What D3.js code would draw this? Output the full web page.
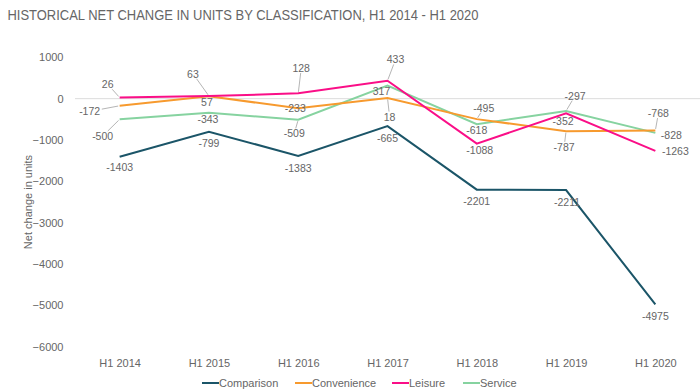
<!DOCTYPE html>
<html><head><meta charset="utf-8">
<script src="https://cdn.jsdelivr.net/npm/d3@7"></script>
<style>body{margin:0;background:#fff;} text{font-family:"Liberation Sans",Arial,sans-serif;}</style>
</head><body>
<svg id="c" width="700" height="391"></svg>
<script>
const categories = ["H1 2014","H1 2015","H1 2016","H1 2017","H1 2018","H1 2019","H1 2020"];
const seriesNames = ["Comparison","Convenience","Leisure","Service"];
const comparison  = [-1403, -799, -1383, -665, -2201, -2211, -4975];
const convenience = [-172, 57, -233, 18, -495, -787, -768];
const leisure     = [26, 63, 128, 433, -1088, -352, -1263];
const service     = [-500, -343, -509, 317, -618, -297, -828];
const yTicks = [1000, 0, -1000, -2000, -3000, -4000, -5000, -6000];
const colors = ["#1b5568", "#f79a2e", "#fa0e87", "#86d3a0"];

// label placement (layout only): [dx, dy, leader]
const labelLayout = [
  [[0,11,0],[0,12,0],[0,12,0],[0,12,0],[0,12,0],[1,12,0],[0,12,0]],
  [[-30,6,1],[-2,6,0],[-3,0,0],[2,19,1],[7,-11,1],[-2,16,1],[3,-17,1]],
  [[-12,-13,1],[-16,-22,1],[3,-25,1],[8,-21,1],[3,7,0],[-3,8,0],[20,0.5,0]],
  [[-17,17,1],[-1,6,0],[-4,14,1],[-6,6,0],[0,6,0],[9,-15,1],[16,2,0]]
];
const drawOrder = [3, 1, 0, 2];

const series = [comparison, convenience, leisure, service];
const textColor = "#666";
const svg = d3.select("#c");
const x = d3.scalePoint().domain(categories).range([75, 700]).padding(0.5);
const y = d3.scaleLinear().domain([-6000, 1000]).range([346.8, 57.3]);

svg.append("text").attr("x", 7.5).attr("y", 19.5).attr("font-size", 14).attr("fill", "#666")
  .attr("textLength", 471).attr("lengthAdjust", "spacingAndGlyphs")
  .text("HISTORICAL NET CHANGE IN UNITS BY CLASSIFICATION, H1 2014 - H1 2020");

// y axis
const yAxis = d3.axisLeft(y).tickValues(yTicks).tickSize(0).tickPadding(0).tickFormat(d3.format("d"));
const ga = svg.append("g").attr("transform", "translate(63.5,0)").call(yAxis);
ga.select(".domain").remove();
ga.selectAll("text").attr("font-size", 11).attr("fill", textColor).attr("font-family", "Liberation Sans, Arial, sans-serif");

// x axis labels
const xAxis = d3.axisBottom(x).tickSize(0).tickPadding(0);
const gx = svg.append("g").attr("transform", "translate(0,359.5)").call(xAxis);
gx.select(".domain").remove();
gx.selectAll("text").attr("font-size", 11).attr("fill", textColor).attr("font-family", "Liberation Sans, Arial, sans-serif");

// zero line
svg.append("line").attr("x1", 75).attr("x2", 700).attr("y1", y(0)).attr("y2", y(0))
  .attr("stroke", "#dcdcdc").attr("stroke-width", 1);

// y title
svg.append("text").attr("transform", `translate(31.5,${y(-2500)}) rotate(-90)`)
  .attr("text-anchor", "middle").attr("font-size", 11).attr("fill", textColor)
  .text("Net change in units");

const line = d3.line().x((d, i) => x(categories[i])).y(d => y(d));
drawOrder.forEach(k => {
  svg.append("path").datum(series[k]).attr("d", line).attr("fill", "none")
    .attr("stroke", colors[k]).attr("stroke-width", 2).attr("stroke-linejoin", "miter");
});

// labels
const gl = svg.append("g");
series.forEach((s, k) => {
  s.forEach((v, i) => {
    const [dx, dy, lead] = labelLayout[k][i];
    const px = x(categories[i]), py = y(v);
    const t = gl.append("text").attr("x", px + dx).attr("y", py + dy).attr("dy", "0.35em")
      .attr("text-anchor", "middle").attr("font-size", 10.5).attr("fill", textColor).text(v);
    if (lead) {
      const bb = t.node().getBBox();
      const cx = bb.x + bb.width / 2, cy = bb.y + bb.height / 2;
      const hw = bb.width / 2 + 1.5, hh = bb.height / 2 - 1;
      const vx = px - cx, vy = py - cy;
      const tt = Math.min(Math.abs(vx) > 0 ? hw / Math.abs(vx) : 1e9, Math.abs(vy) > 0 ? hh / Math.abs(vy) : 1e9);
      const ex = cx + vx * tt, ey = cy + vy * tt;
      const len = Math.hypot(px - ex, py - ey);
      const sx = px + (ex - px) * (1.5 / len), sy = py + (ey - py) * (1.5 / len);
      gl.insert("line", ":first-child").attr("x1", sx).attr("y1", sy).attr("x2", ex).attr("y2", ey)
        .attr("stroke", "#b5b5b5").attr("stroke-width", 1);
    }
  });
});

// legend
const legendX = [202, 295, 392, 463];
const lg = svg.append("g").attr("transform", "translate(0,383)");
seriesNames.forEach((n, k) => {
  lg.append("line").attr("x1", legendX[k]).attr("x2", legendX[k] + 17).attr("y1", 0).attr("y2", 0)
    .attr("stroke", colors[k]).attr("stroke-width", 2);
  lg.append("text").attr("x", legendX[k] + 17).attr("y", 0).attr("dy", "0.35em")
    .attr("font-size", 11).attr("fill", textColor).text(n);
});
</script>
</body></html>
